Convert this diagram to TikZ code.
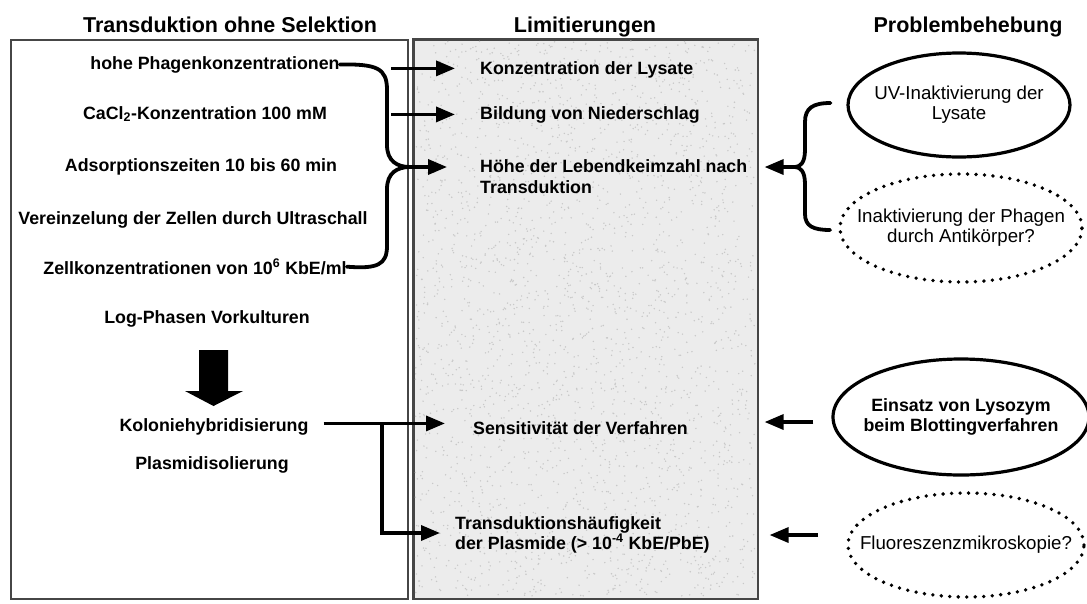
\documentclass[tikz,border=0pt]{standalone}
\usepackage{fontspec}
\setmainfont{Liberation Sans}
\usetikzlibrary{arrows.meta,shapes.geometric,calc}
\definecolor{boxline}{RGB}{70,70,70}
\definecolor{midfill}{RGB}{236,236,236}
\definecolor{speck}{RGB}{200,200,200}
\tikzset{
  ttl/.style={font=\fontsize{21.5}{26}\selectfont\bfseries, inner sep=0pt, anchor=base},
  item/.style={font=\fontsize{17.8}{21}\selectfont\bfseries, inner sep=0pt, anchor=base},
  lim/.style={font=\fontsize{17.8}{21}\selectfont\bfseries, inner sep=0pt, anchor=base west, align=left},
  sol/.style={font=\fontsize{18.7}{20}\selectfont, align=center},
  solb/.style={font=\fontsize{17.8}{20}\selectfont\bfseries, align=center},
  oval/.style={ellipse, draw, line width=3.2pt, inner xsep=-25pt, inner ysep=-12pt},
  dotoval/.style={ellipse, draw, line width=3.8pt, line cap=round, dash pattern=on 0pt off 8.5pt, inner xsep=-25pt, inner ysep=-12pt},
  arr/.style={line width=3.4pt, -{Triangle[length=19pt,width=15pt]}},
  brace/.style={line width=3.8pt, line cap=round},
  panel/.style={draw=boxline, line width=1.6pt, inner sep=0pt, anchor=north west},
}
\begin{document}
\begin{tikzpicture}[x=1pt,y=-1pt]
\useasboundingbox (0,0) rectangle (1087,603);
% panels
\node[panel, minimum width=397pt, minimum height=559pt] (leftbox) at (10,39) {};
\node[panel, fill=midfill, minimum width=344pt, minimum height=559pt] (midbox) at (413,39) {};
% texture of the middle panel
\pgfmathsetseed{7}
\foreach \k in {1,...,2600}{
  \pgfmathsetmacro\rx{415+340*rnd}
  \pgfmathsetmacro\ry{41+555*rnd}
  \fill[speck] (\rx,\ry) circle (0.8);
}
\draw[boxline, line width=1.6pt] (midbox.north west) rectangle (midbox.south east);
% titles
\node[ttl] (t1) at (230,32) {Transduktion ohne Selektion};
\node[ttl] (t2) at (585,32) {Limitierungen};
\node[ttl] (t3) at (968,32) {Problembehebung};
% left items
\node[item] (i1) at (215,69) {hohe Phagenkonzentrationen};
\node[item] (i2) at (205,119) {CaCl\textsubscript{2}-Konzentration 100 mM};
\node[item] (i3) at (201,171) {Adsorptionszeiten 10 bis 60 min};
\node[item] (i4) at (193,224) {Vereinzelung der Zellen durch Ultraschall};
\node[item] (i5) at (195,274) {Zellkonzentrationen von 10\textsuperscript{6} KbE/ml};
\node[item] (i6) at (207,323) {Log-Phasen Vorkulturen};
\node[item] (i7) at (214,431) {Koloniehybridisierung};
\node[item] (i8) at (212,469) {Plasmidisolierung};
% big down arrow
\fill (199,350) -- (228,350) -- (228,391) -- (243,391) -- (213.5,406) -- (185,391) -- (199,391) -- cycle;
% limitations
\node[lim] (lys) at (480,74) {Konzentration der Lysate};
\node[lim] (nied) at (480,119) {Bildung von Niederschlag};
\node[lim, font=\fontsize{17.8}{21}\selectfont\bfseries] (hoehe) at (480,193) {H\"ohe der Lebendkeimzahl nach\\Transduktion};
\node[lim] (sens) at (473,434) {Sensitivit\"at der Verfahren};
\node[lim, font=\fontsize{17.8}{18}\selectfont\bfseries] (trans) at (455,549) {Transduktionsh\"aufigkeit\\der Plasmide (> 10\textsuperscript{-4} KbE/PbE)};
% solutions
\node[oval, sol, minimum width=222pt, minimum height=104pt] (uv) at (959,105) {UV-Inaktivierung der\\Lysate};
\node[dotoval, sol, minimum width=242pt, minimum height=108pt] (anti) at (961,228) {Inaktivierung der Phagen\\durch Antik\"orper?};
\node[oval, solb, minimum width=256pt, minimum height=116pt] (lyso) at (961,417) {Einsatz von Lysozym\\beim Blottingverfahren};
\node[dotoval, sol, minimum width=236pt, minimum height=104pt] (fluor) at (966,545) {Fluoreszenzmikroskopie?};
% left brace
\coordinate (jL) at (410,167);
\draw[brace] (i1.east) .. controls (377,64) and (387,68) .. (387,90) -- (387,145)
  .. controls (387,161) and (397,167) .. (jL)
  .. controls (397,167) and (387,173) .. (387,189) -- (387,246)
  .. controls (387,265) and (377,269) .. (i5.east);
\draw[arr] (jL) -- (447,167);
\draw[arr] ($(lys.west)+(-89,-1)$) -- ($(lys.west)+(-25,-1)$);
\draw[arr] ($(nied.west)+(-89,0)$) -- ($(nied.west)+(-25,0)$);
% bottom left connectors
\coordinate (bk) at (382,423);
\draw[arr] ($(i7.east)+(15,-3)$) -- ($(i7.east -| sens.west)+(-28,-3)$);
\draw[arr] (bk) |- (440,533);
% right brace
\coordinate (jR) at (795,167);
\draw[brace] ($(uv.west)+(-16,-2)$) .. controls (813,103) and (805,108) .. (805,122) -- (805,150)
  .. controls (805,163) and (800,167) .. (jR)
  .. controls (800,167) and (805,171) .. (805,184) -- (805,214)
  .. controls (805,226) and (813,230) .. ($(anti.west)+(-8,2)$);
\draw[arr] (jR) -- ($(jR -| midbox.east)+(6,0)$);
% right arrows
\draw[arr] ($(lyso.west)+(-18,5)$) -- ($(lyso.west -| midbox.east)+(6,5)$);
\draw[arr] ($(fluor.west)+(-28,-10)$) -- ($(fluor.west -| midbox.east)+(11,-10)$);
\end{tikzpicture}
\end{document}
